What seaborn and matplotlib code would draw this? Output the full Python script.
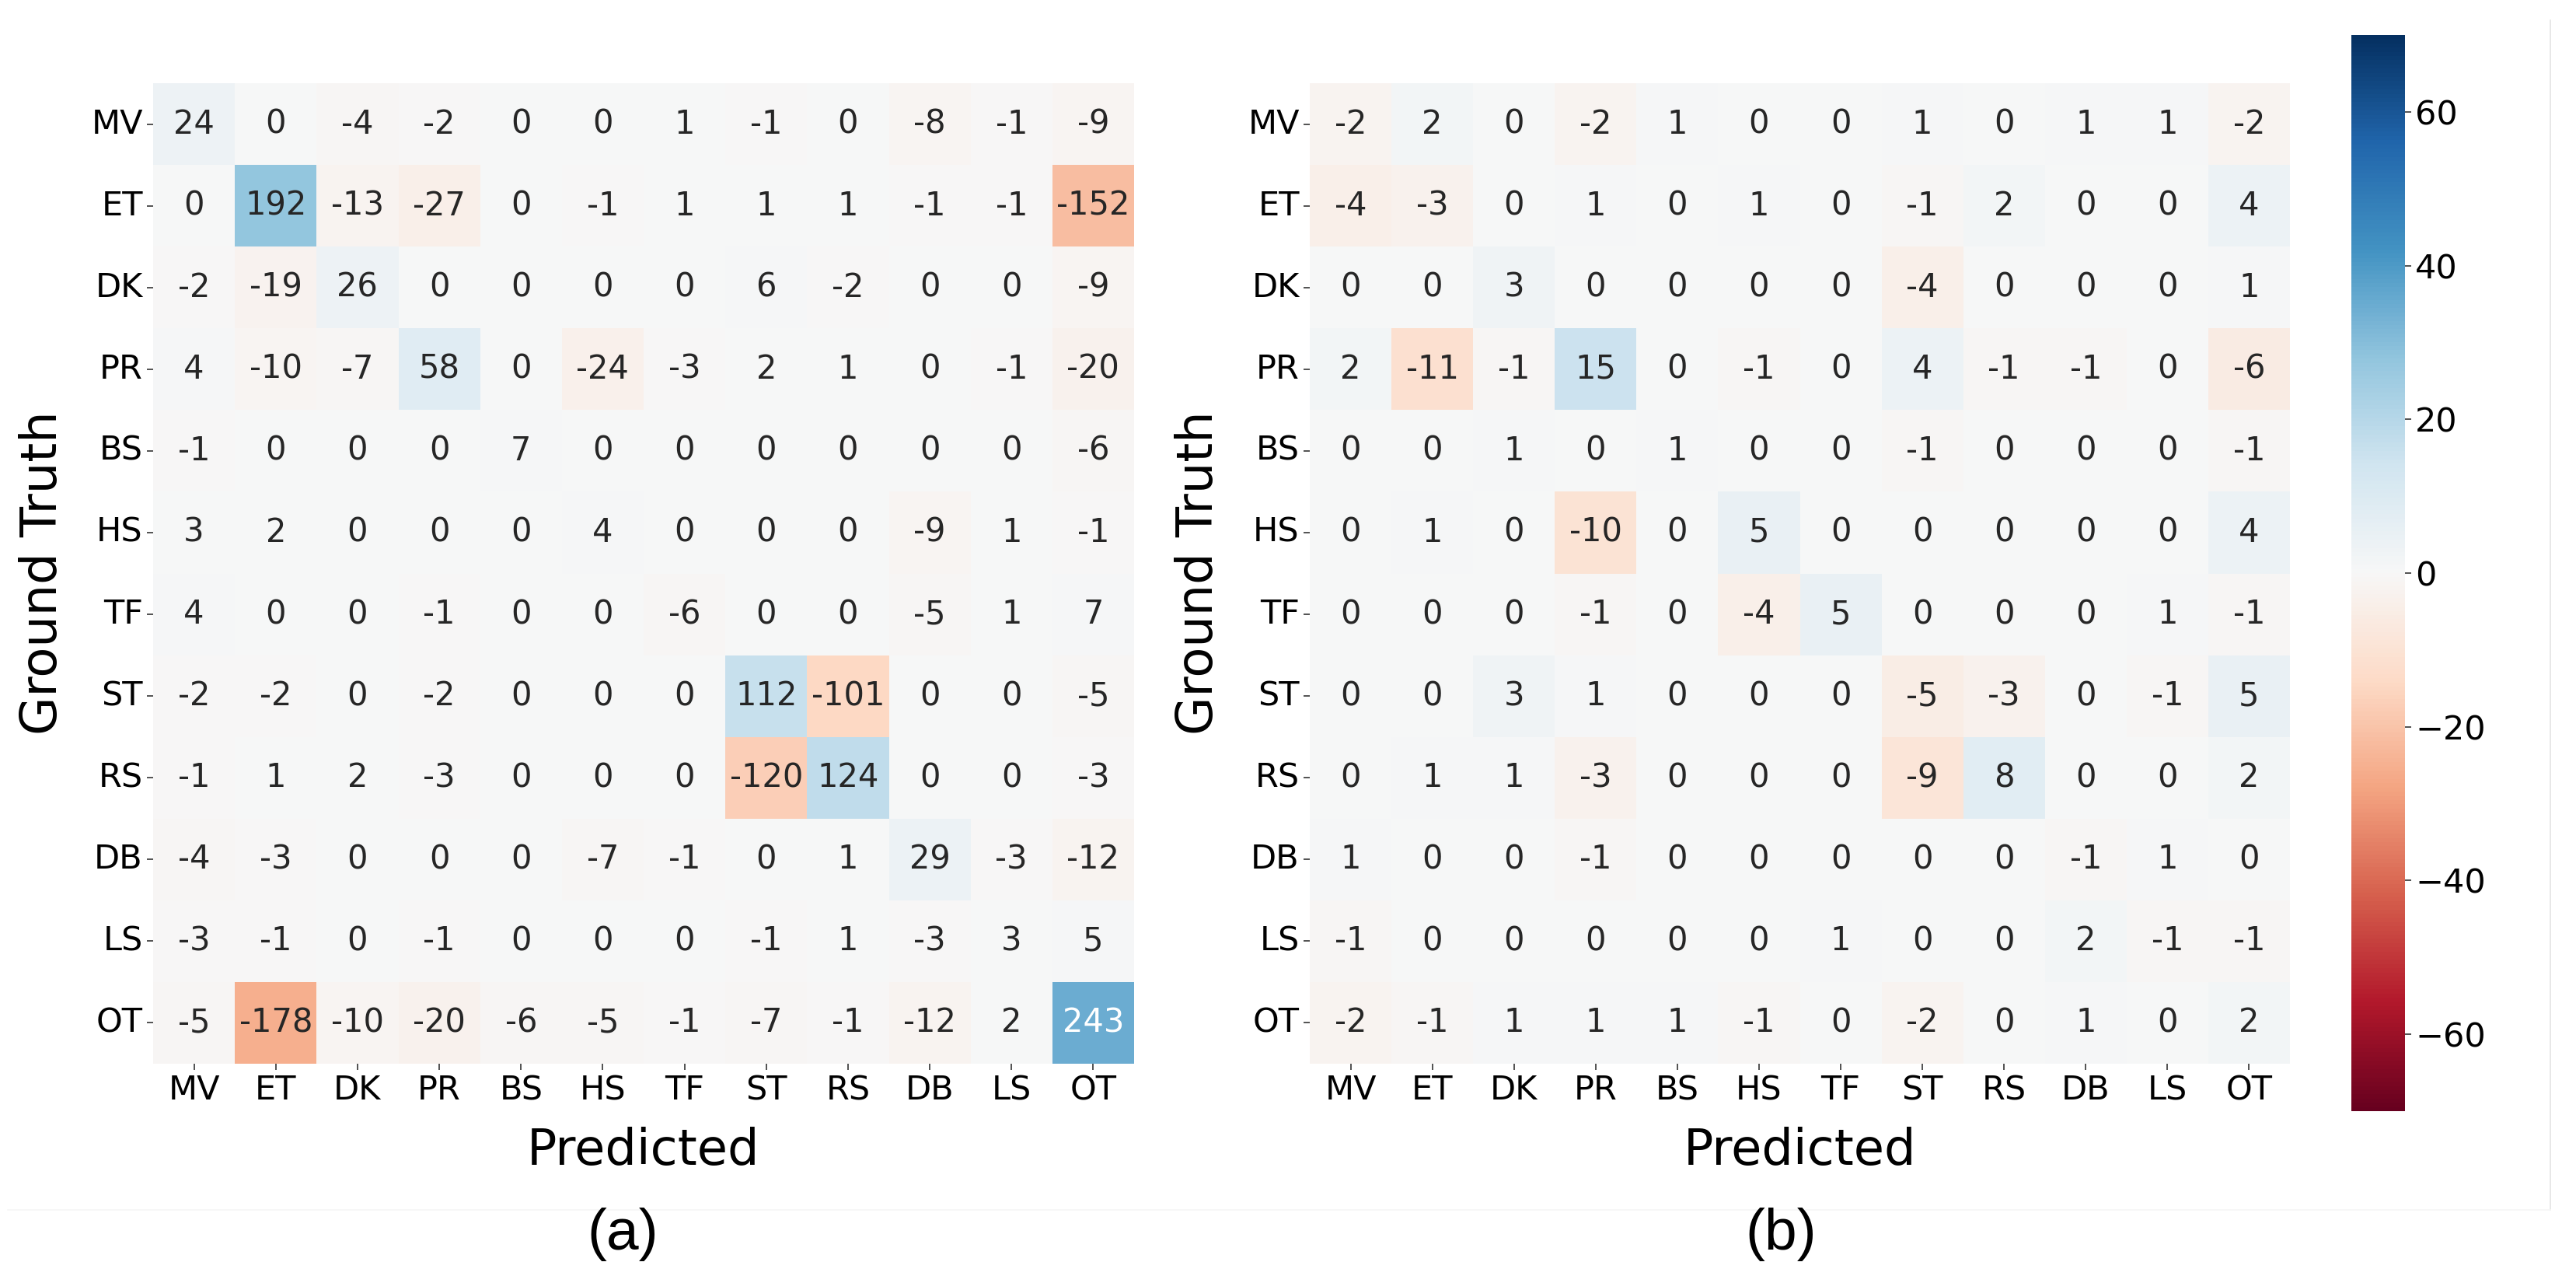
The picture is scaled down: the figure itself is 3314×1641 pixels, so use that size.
import numpy as np
import pandas as pd
import seaborn as sns
import matplotlib
matplotlib.use("Agg")
import matplotlib.pyplot as plt
from matplotlib.lines import Line2D

labels = ["MV", "ET", "DK", "PR", "BS", "HS", "TF", "ST", "RS", "DB", "LS", "OT"]

values_a = [
    [24, 0, -4, -2, 0, 0, 1, -1, 0, -8, -1, -9],
    [0, 192, -13, -27, 0, -1, 1, 1, 1, -1, -1, -152],
    [-2, -19, 26, 0, 0, 0, 0, 6, -2, 0, 0, -9],
    [4, -10, -7, 58, 0, -24, -3, 2, 1, 0, -1, -20],
    [-1, 0, 0, 0, 7, 0, 0, 0, 0, 0, 0, -6],
    [3, 2, 0, 0, 0, 4, 0, 0, 0, -9, 1, -1],
    [4, 0, 0, -1, 0, 0, -6, 0, 0, -5, 1, 7],
    [-2, -2, 0, -2, 0, 0, 0, 112, -101, 0, 0, -5],
    [-1, 1, 2, -3, 0, 0, 0, -120, 124, 0, 0, -3],
    [-4, -3, 0, 0, 0, -7, -1, 0, 1, 29, -3, -12],
    [-3, -1, 0, -1, 0, 0, 0, -1, 1, -3, 3, 5],
    [-5, -178, -10, -20, -6, -5, -1, -7, -1, -12, 2, 243],
]

values_b = [
    [-2, 2, 0, -2, 1, 0, 0, 1, 0, 1, 1, -2],
    [-4, -3, 0, 1, 0, 1, 0, -1, 2, 0, 0, 4],
    [0, 0, 3, 0, 0, 0, 0, -4, 0, 0, 0, 1],
    [2, -11, -1, 15, 0, -1, 0, 4, -1, -1, 0, -6],
    [0, 0, 1, 0, 1, 0, 0, -1, 0, 0, 0, -1],
    [0, 1, 0, -10, 0, 5, 0, 0, 0, 0, 0, 4],
    [0, 0, 0, -1, 0, -4, 5, 0, 0, 0, 1, -1],
    [0, 0, 3, 1, 0, 0, 0, -5, -3, 0, -1, 5],
    [0, 1, 1, -3, 0, 0, 0, -9, 8, 0, 0, 2],
    [1, 0, 0, -1, 0, 0, 0, 0, 0, -1, 1, 0],
    [-1, 0, 0, 0, 0, 0, 1, 0, 0, 2, -1, -1],
    [-2, -1, 1, 1, 1, -1, 0, -2, 0, 1, 0, 2],
]

df_a = pd.DataFrame(values_a, index=labels, columns=labels)
df_b = pd.DataFrame(values_b, index=labels, columns=labels)

W, H = 3314, 1641
fig = plt.figure(figsize=(W / 100, H / 100), dpi=100)
plt.rcParams['font.family'] = ['DejaVu Sans']

def fx(px):
    return px / W

def fy(py):
    return 1 - py / H

top, bottom = 107, 1368
ax_a = fig.add_axes([fx(197), fy(bottom), fx(1262), (bottom - top) / H])
ax_b = fig.add_axes([fx(1685), fy(bottom), fx(1261), (bottom - top) / H])
cax = fig.add_axes([fx(3025), fy(1429), fx(69), (1429 - 45) / H])

annot_kws = {"fontsize": 30}
sns.heatmap(df_a, ax=ax_a, cmap="RdBu", vmin=-490, vmax=490, center=0,
            annot=True, fmt="d", annot_kws=annot_kws, cbar=False)
sns.heatmap(df_b, ax=ax_b, cmap="RdBu", vmin=-70, vmax=70, center=0,
            annot=True, fmt="d", annot_kws=annot_kws, cbar=True, cbar_ax=cax)

for ax in (ax_a, ax_b):
    ax.set_xlabel("")
    ax.set_ylabel("")
    ax.tick_params(axis="both", labelsize=31, length=6, width=1.2, color="#333333")
    ax.set_xticklabels(labels, rotation=0)
    ax.set_yticklabels(labels, rotation=0)

cax.tick_params(labelsize=31, length=6, width=1.2, color="#333333")
cax.set_yticks([-60, -40, -20, 0, 20, 40, 60])

# axis labels
fig.text(fx(55), fy(737), "Ground Truth", rotation=90, ha="center", va="center", fontsize=46)
fig.text(fx(1542), fy(737), "Ground Truth", rotation=90, ha="center", va="center", fontsize=46)
fig.text(fx(828), fy(1498), "Predicted", ha="center", va="baseline", fontsize=46)
fig.text(fx(2315), fy(1498), "Predicted", ha="center", va="baseline", fontsize=46)

# panel labels
fig.text(fx(801), fy(1587), "(a)", ha="center", va="center", fontsize=54,
         family=["Liberation Sans", "DejaVu Sans"])
fig.text(fx(2291), fy(1587), "(b)", ha="center", va="center", fontsize=54,
         family=["Liberation Sans", "DejaVu Sans"])

# very faint frame lines (from the composed figure)
fig.add_artist(Line2D([fx(3281), fx(3281)], [fy(26), fy(1556)], color="#e4e4e4", lw=1.2))
fig.add_artist(Line2D([fx(10), fx(3281)], [fy(1556), fy(1556)], color="#f6f6f6", lw=1.2))

fig.savefig("out.png", dpi=100, facecolor="white")
